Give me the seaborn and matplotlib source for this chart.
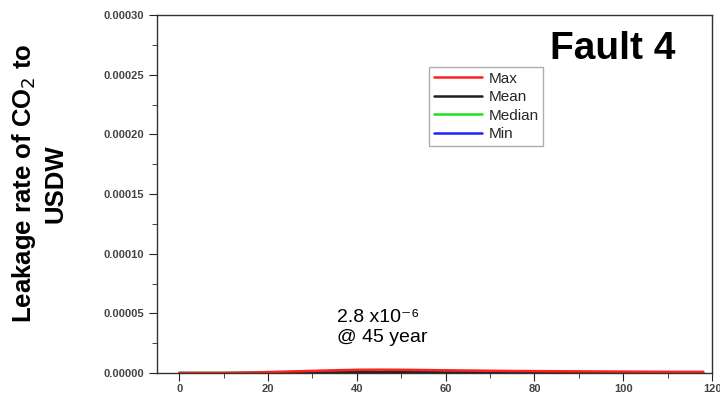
import numpy as np
import pandas as pd
import seaborn as sns
import matplotlib.pyplot as plt
from matplotlib.ticker import MultipleLocator

# time in years
years = [0, 5, 10, 15, 20, 25, 30, 35, 40, 45, 50, 55, 60, 65, 70, 75, 80, 85, 90, 95, 100, 105, 110, 118]
# leakage rates (very small, near zero)
max_rate = [0, 0, 0, 3e-7, 8e-7, 1.3e-6, 1.8e-6, 2.3e-6, 2.7e-6, 2.8e-6, 2.7e-6, 2.5e-6, 2.3e-6, 2.1e-6, 1.9e-6,
            1.7e-6, 1.6e-6, 1.5e-6, 1.4e-6, 1.3e-6, 1.2e-6, 1.1e-6, 1.0e-6, 1.0e-6]
mean_rate = [0, 0, 0, 1e-7, 2e-7, 3e-7, 4e-7, 5e-7, 6e-7, 6e-7, 6e-7, 6e-7, 5e-7, 5e-7, 4e-7,
             4e-7, 4e-7, 3e-7, 3e-7, 3e-7, 3e-7, 2e-7, 2e-7, 2e-7]
median_rate = [0, 0, 0, 0, 0, 1e-7, 2e-7, 3e-7, 4e-7, 5e-7, 5e-7, 5e-7, 4e-7, 3e-7, 3e-7,
               2e-7, 2e-7, 2e-7, 1e-7, 1e-7, 1e-7, 1e-7, 1e-7, 1e-7]
min_rate = [0] * len(years)

df = pd.DataFrame({'Year': years, 'Max': max_rate, 'Mean': mean_rate,
                   'Median': median_rate, 'Min': min_rate})
df_melted = df.melt(id_vars='Year', var_name='Stat', value_name='Rate')

sns.set_style('ticks')
plt.rcParams['font.family'] = ['Liberation Sans', 'DejaVu Sans']

fig = plt.figure(figsize=(7.2, 3.96), dpi=100)
ax = fig.add_axes([0.218, 0.058, 0.771, 0.904])

palette = {'Max': '#ff2020', 'Mean': '#202020', 'Median': '#20e020', 'Min': '#2020ff'}
# draw in reverse so Max sits on top
for stat in ['Min', 'Median', 'Mean', 'Max']:
    sub = df_melted[df_melted['Stat'] == stat]
    sns.lineplot(data=sub, x='Year', y='Rate', color=palette[stat], lw=1.8, ax=ax, label=stat)

ax.set_xlim(-5, 120)
ax.set_ylim(0, 0.0003)
ax.xaxis.set_major_locator(MultipleLocator(20))
ax.xaxis.set_minor_locator(MultipleLocator(10))
ax.yaxis.set_major_locator(MultipleLocator(0.00005))
ax.yaxis.set_minor_locator(MultipleLocator(0.000025))
ax.yaxis.set_major_formatter(plt.FormatStrFormatter('%.5f'))
ax.tick_params(which='both', direction='out', labelsize=8, colors='#222222', labelcolor='#444444')
ax.tick_params(which='major', length=6)
ax.tick_params(which='minor', length=3.5)
ax.tick_params(axis='x', pad=2)
for lab in ax.get_xticklabels() + ax.get_yticklabels():
    lab.set_fontweight('bold')
for s in ax.spines.values():
    s.set_linewidth(1.0)
    s.set_color('#333333')

ax.set_xlabel('')
ax.set_ylabel('Leakage rate of CO$_2$ to\nUSDW', fontsize=18.5, fontweight='bold',
              color='black', linespacing=1.25)
ax.yaxis.set_label_coords(-0.162, 0.53)

ax.text(0.935, 0.955, 'Fault 4', transform=ax.transAxes, ha='right', va='top',
        fontsize=28, fontweight='bold', color='black')
ax.text(35.5, 0.000054, '2.8 x10\u207b\u2076\n@ 45 year', ha='left', va='top', fontsize=14,
        linespacing=1.25, color='black')

handles, labels = ax.get_legend_handles_labels()
order = ['Max', 'Mean', 'Median', 'Min']
hmap = dict(zip(labels, handles))
ax.legend([hmap[k] for k in order], order, loc='upper left', bbox_to_anchor=(0.49, 0.855),
          fontsize=11, frameon=True, fancybox=False, edgecolor='#999999', handlelength=3.2,
          borderpad=0.3, labelspacing=0.3, handletextpad=0.4, borderaxespad=0)

fig.savefig('out.png', dpi=100)
